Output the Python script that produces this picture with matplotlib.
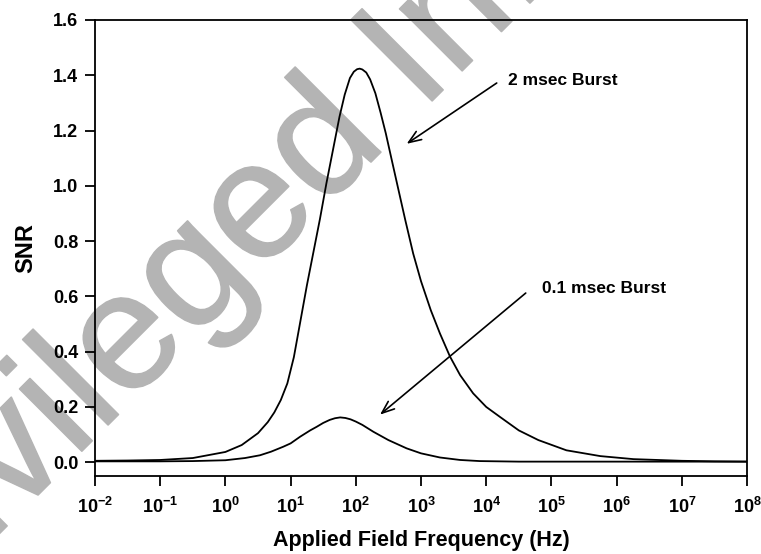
import matplotlib
matplotlib.use("Agg")
import matplotlib.pyplot as plt
import matplotlib.patheffects as pe
import numpy as np

# SNR versus applied field frequency for two burst durations
freq_2ms_log = [-2.0, -1.5, -1.0, -0.5, 0.0, 0.25, 0.5, 0.65, 0.75, 0.85, 0.95,
                1.05, 1.15, 1.25, 1.35, 1.45, 1.55, 1.65, 1.75, 1.83, 1.91,
                1.97, 2.02, 2.06, 2.1, 2.16, 2.22, 2.3, 2.38, 2.46, 2.55,
                2.65, 2.76, 2.88, 3.0, 3.15, 3.29, 3.445, 3.6, 3.8, 4.0, 4.21,
                4.5, 4.8, 5.23, 5.75, 6.26, 7.0, 7.5, 8.0]
snr_2ms = [0.005, 0.006, 0.008, 0.015, 0.037, 0.062, 0.105, 0.145, 0.18,
           0.225, 0.285, 0.38, 0.51, 0.64, 0.76, 0.88, 1.01, 1.13, 1.25,
           1.33, 1.39, 1.413, 1.422, 1.424, 1.421, 1.41, 1.385, 1.335,
           1.265, 1.19, 1.095, 0.99, 0.875, 0.755, 0.655, 0.55, 0.466,
           0.382, 0.315, 0.249, 0.20, 0.164, 0.115, 0.08, 0.043, 0.022,
           0.011, 0.005, 0.003, 0.002]

freq_01ms_log = [-2.0, -1.0, -0.5, 0.0, 0.3, 0.53, 0.7, 0.888, 1.0, 1.145, 1.3,
                 1.4, 1.5, 1.6, 1.68, 1.76, 1.84, 1.92, 2.0, 2.1, 2.27, 2.5,
                 2.78, 3.0, 3.29, 3.6, 3.9, 4.5, 8.0]
snr_01ms = [0.003, 0.003, 0.004, 0.007, 0.015, 0.025, 0.038, 0.056, 0.068,
            0.092, 0.115, 0.128, 0.142, 0.153, 0.159, 0.162, 0.160, 0.155,
            0.147, 0.135, 0.110, 0.080, 0.050, 0.032, 0.017, 0.008, 0.004,
            0.002, 0.002]

x_tick_exponents = [-2, -1, 0, 1, 2, 3, 4, 5, 6, 7, 8]
y_ticks = [0.0, 0.2, 0.4, 0.6, 0.8, 1.0, 1.2, 1.4, 1.6]

plt.rcParams['font.family'] = ['Liberation Sans', 'DejaVu Sans']
plt.rcParams['font.weight'] = 'bold'
plt.rcParams['mathtext.fontset'] = 'custom'
plt.rcParams['mathtext.rm'] = 'Liberation Sans:bold'
plt.rcParams['mathtext.bf'] = 'Liberation Sans:bold'
plt.rcParams['mathtext.it'] = 'Liberation Sans:bold:italic'
plt.rcParams['mathtext.default'] = 'rm'

fig = plt.figure(figsize=(7.61, 5.54), dpi=100)
ax = fig.add_axes([95 / 761, 1 - 476 / 554, 652 / 761, 456 / 554])
ax.patch.set_visible(False)

# watermark behind the plot
fig.text(-129 / 761, 1 - 662 / 554, "Privileged Information", fontsize=120,
         color='#b4b4b4', fontweight='normal', rotation=45,
         rotation_mode='anchor', ha='left', va='baseline', zorder=-5,
         path_effects=[pe.withStroke(linewidth=1.2, foreground='#b4b4b4')])

ax.plot(10 ** np.array(freq_2ms_log), snr_2ms, color='black', lw=1.3)
ax.plot(10 ** np.array(freq_01ms_log), snr_01ms, color='black', lw=1.3)

ax.set_xscale('log')
ax.set_xlim(1e-2, 1e8)
ax.set_ylim(-0.05, 1.6)
ax.set_xticks([10.0 ** e for e in x_tick_exponents])
ax.set_xticklabels([f'$10^{{{e}}}$' for e in x_tick_exponents])
ax.xaxis.set_minor_locator(matplotlib.ticker.NullLocator())
ax.set_yticks(y_ticks)
ax.set_yticklabels([f'{v:.1f}' for v in y_ticks])

for s in ax.spines.values():
    s.set_linewidth(1.3)
ax.tick_params(axis='both', direction='out', length=7, width=1.3,
               labelsize=13)
ax.tick_params(axis='x', pad=8)
ax.tick_params(axis='y', pad=5)

ax.set_xlabel('Applied Field Frequency (Hz)', fontsize=15.5, fontweight='bold')
ax.set_ylabel('SNR', fontsize=17, fontweight='bold')
ax.xaxis.set_label_coords(0.5, -0.118)
ax.yaxis.set_label_coords(-0.089, 0.5)

arrow = dict(arrowstyle='->,head_length=0.9,head_width=0.35', color='black',
             lw=1.2, shrinkA=0, shrinkB=0)
ax.annotate('', xy=(603, 1.152), xytext=(14500, 1.372), arrowprops=arrow)
ax.text(21900, 1.380, '2 msec Burst', fontsize=12.5, fontweight='bold',
        ha='left', va='center')
ax.annotate('', xy=(235, 0.172), xytext=(40400, 0.612), arrowprops=arrow)
ax.text(71000, 0.630, '0.1 msec Burst', fontsize=12.5, fontweight='bold',
        ha='left', va='center')

fig.savefig('out.png', dpi=100)
